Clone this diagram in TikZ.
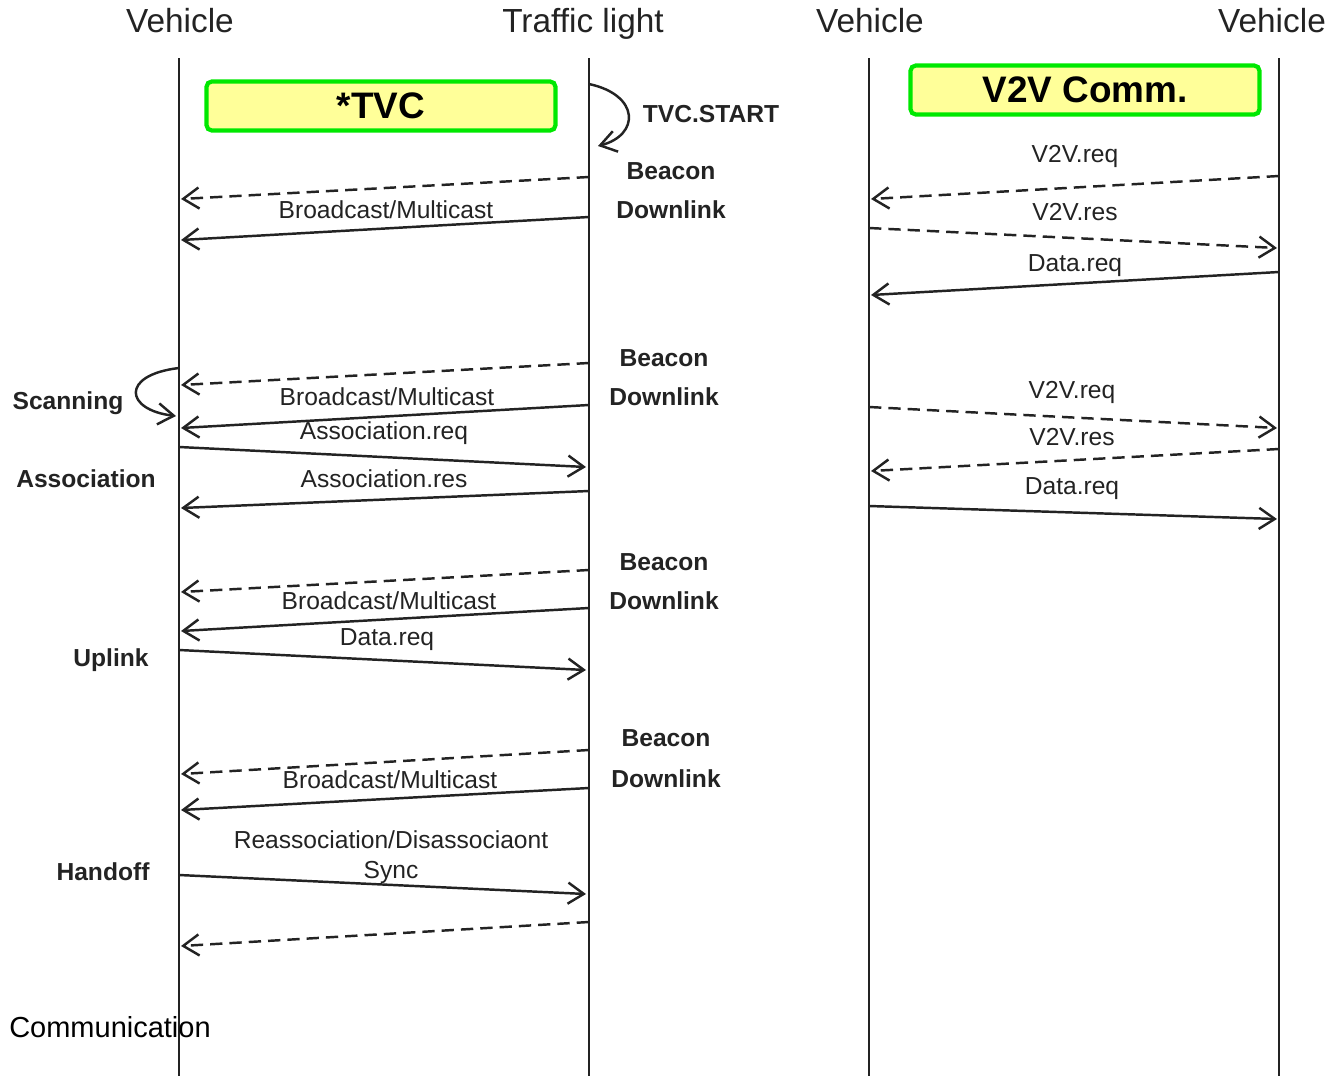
\documentclass[tikz,border=0pt]{standalone}
\usepackage{fontspec}
\setmainfont{Liberation Sans}
\usetikzlibrary{arrows.meta}
\definecolor{tvcyellow}{RGB}{255,255,153}
\definecolor{tvcgreen}{RGB}{0,232,0}
\definecolor{lineblack}{RGB}{35,35,35}

\begin{document}
\begin{tikzpicture}[x=0.02cm,y=-0.02cm]
    \tikzstyle{lifeline} = [draw=lineblack, line width=1.6pt]
    \tikzstyle{msg} = [draw=lineblack, line width=1.4pt, -{Straight Barb[length=9pt,width=12pt]}]
    \tikzstyle{beacon} = [msg, dash pattern=on 7pt off 4pt]
    \tikzstyle{phasebox} = [rectangle, rounded corners=3pt, draw=tvcgreen, line width=2.4pt, fill=tvcyellow, minimum width=6.98cm, minimum height=0.98cm, font=\fontsize{21}{24}\selectfont\bfseries]
    \tikzstyle{header} = [font=\fontsize{19}{22}\selectfont, text=lineblack, anchor=base]
    \tikzstyle{msglabel} = [font=\fontsize{14}{16}\selectfont, text=lineblack, inner sep=0pt]
    \tikzstyle{steplabel} = [font=\fontsize{14}{16}\selectfont\bfseries, text=lineblack, inner sep=0pt]

    \useasboundingbox (0,0) rectangle (1333,1076);

    % Headers and lifelines
    \node[header] (veh1) at (180,32) {Vehicle};
    \node[header] (light) at (583,32) {Traffic light};
    \node[header] (veh2) at (870,32) {Vehicle};
    \node[header] (veh3) at (1272,32) {Vehicle};
    \coordinate (v1top) at (179,58);   \coordinate (v1bot) at (179,1076);
    \coordinate (tltop) at (589,58);   \coordinate (tlbot) at (589,1076);
    \coordinate (v2top) at (869,58);   \coordinate (v2bot) at (869,1076);
    \coordinate (v3top) at (1279,58);  \coordinate (v3bot) at (1279,1076);
    \draw[lifeline] (v1top) -- (v1bot);
    \draw[lifeline] (tltop) -- (tlbot);
    \draw[lifeline] (v2top) -- (v2bot);
    \draw[lifeline] (v3top) -- (v3bot);

    % Phase boxes
    \node[phasebox] (tvc) at (381,106) {*TVC};
    \node[phasebox] (v2v) at (1085,90) {V2V Comm.};

    % TVC start
    \coordinate (start1) at (589,84);
    \coordinate (start2) at (598,146);
    \draw[msg] (start1) .. controls (640,95) and (640,135) .. (start2);
    \node[steplabel] (tvcstart) at (711,114) {TVC.START};

    % Beacon / downlink 1
    \coordinate (bc1a) at (589,177);  \coordinate (bc1b) at (181,199);
    \coordinate (dl1a) at (589,217);  \coordinate (dl1b) at (181,240);
    \draw[beacon] (bc1a) -- (bc1b);
    \draw[msg] (dl1a) -- (dl1b);
    \node[msglabel] (bm1) at (386,210) {Broadcast/Multicast};
    \node[steplabel] (beacon1) at (671,171) {Beacon};
    \node[steplabel] (down1) at (671,210) {Downlink};

    % Beacon / downlink 2, scanning and association
    \coordinate (bc2a) at (589,363);  \coordinate (bc2b) at (181,385);
    \coordinate (dl2a) at (589,405);  \coordinate (dl2b) at (181,428);
    \draw[beacon] (bc2a) -- (bc2b);
    \draw[msg] (dl2a) -- (dl2b);
    \node[msglabel] (bm2) at (387,397) {Broadcast/Multicast};
    \node[steplabel] (beacon2) at (664,358) {Beacon};
    \node[steplabel] (down2) at (664,397) {Downlink};
    \coordinate (scan1) at (179,368);
    \coordinate (scan2) at (176,416);
    \draw[msg] (scan1) .. controls (120,375) and (125,410) .. (scan2);
    \node[steplabel] (scanning) at (68,403) {Scanning};
    \coordinate (areqa) at (179,447);  \coordinate (areqb) at (586,467);
    \coordinate (aresa) at (589,491);  \coordinate (aresb) at (181,508);
    \draw[msg] (areqa) -- (areqb);
    \draw[msg] (aresa) -- (aresb);
    \node[msglabel] (areq) at (384,433) {Association.req};
    \node[msglabel] (ares) at (384,479) {Association.res};
    \node[steplabel] (assoc) at (86,479) {Association};

    % Beacon / downlink 3 and uplink
    \coordinate (bc3a) at (589,570);  \coordinate (bc3b) at (181,592);
    \coordinate (dl3a) at (589,608);  \coordinate (dl3b) at (181,631);
    \draw[beacon] (bc3a) -- (bc3b);
    \draw[msg] (dl3a) -- (dl3b);
    \node[msglabel] (bm3) at (389,601) {Broadcast/Multicast};
    \node[steplabel] (beacon3) at (664,562) {Beacon};
    \node[steplabel] (down3) at (664,601) {Downlink};
    \coordinate (upa) at (179,650);  \coordinate (upb) at (586,670);
    \draw[msg] (upa) -- (upb);
    \node[msglabel] (upreq) at (387,640) {Data.req};
    \node[steplabel] (uplink) at (111,660) {Uplink};

    % Beacon / downlink 4 and handoff
    \coordinate (bc4a) at (589,750);  \coordinate (bc4b) at (181,774);
    \coordinate (dl4a) at (589,788);  \coordinate (dl4b) at (181,810);
    \draw[beacon] (bc4a) -- (bc4b);
    \draw[msg] (dl4a) -- (dl4b);
    \node[msglabel] (bm4) at (390,780) {Broadcast/Multicast};
    \node[steplabel] (beacon4) at (666,738) {Beacon};
    \node[steplabel] (down4) at (666,779) {Downlink};
    \node[msglabel] (reassoc) at (391,840) {Reassociation/Disassociaont};
    \node[msglabel] (sync) at (391,872) {Sync};
    \node[steplabel] (handoff) at (103,872) {Handoff};
    \coordinate (synca) at (179,875);  \coordinate (syncb) at (586,894);
    \coordinate (bc5a) at (589,922);   \coordinate (bc5b) at (181,946);
    \draw[msg] (synca) -- (syncb);
    \draw[beacon] (bc5a) -- (bc5b);

    % V2V exchange 1
    \coordinate (vq1a) at (1279,176);  \coordinate (vq1b) at (871,199);
    \coordinate (vs1a) at (869,228);   \coordinate (vs1b) at (1277,248);
    \coordinate (vd1a) at (1279,272);  \coordinate (vd1b) at (871,295);
    \draw[beacon] (vq1a) -- (vq1b);
    \draw[beacon] (vs1a) -- (vs1b);
    \draw[msg] (vd1a) -- (vd1b);
    \node[msglabel] (vreq1) at (1075,156) {V2V.req};
    \node[msglabel] (vres1) at (1075,212) {V2V.res};
    \node[msglabel] (vdata1) at (1075,266) {Data.req};

    % V2V exchange 2
    \coordinate (vq2a) at (869,407);   \coordinate (vq2b) at (1277,428);
    \coordinate (vs2a) at (1279,449);  \coordinate (vs2b) at (871,471);
    \coordinate (vd2a) at (869,506);   \coordinate (vd2b) at (1277,519);
    \draw[beacon] (vq2a) -- (vq2b);
    \draw[beacon] (vs2a) -- (vs2b);
    \draw[msg] (vd2a) -- (vd2b);
    \node[msglabel] (vreq2) at (1072,392) {V2V.req};
    \node[msglabel] (vres2) at (1072,437) {V2V.res};
    \node[msglabel] (vdata2) at (1072,489) {Data.req};

    % Caption
    \node[font=\fontsize{16.5}{19}\selectfont] (caption) at (110,1027) {Communication};
\end{tikzpicture}
\end{document}
